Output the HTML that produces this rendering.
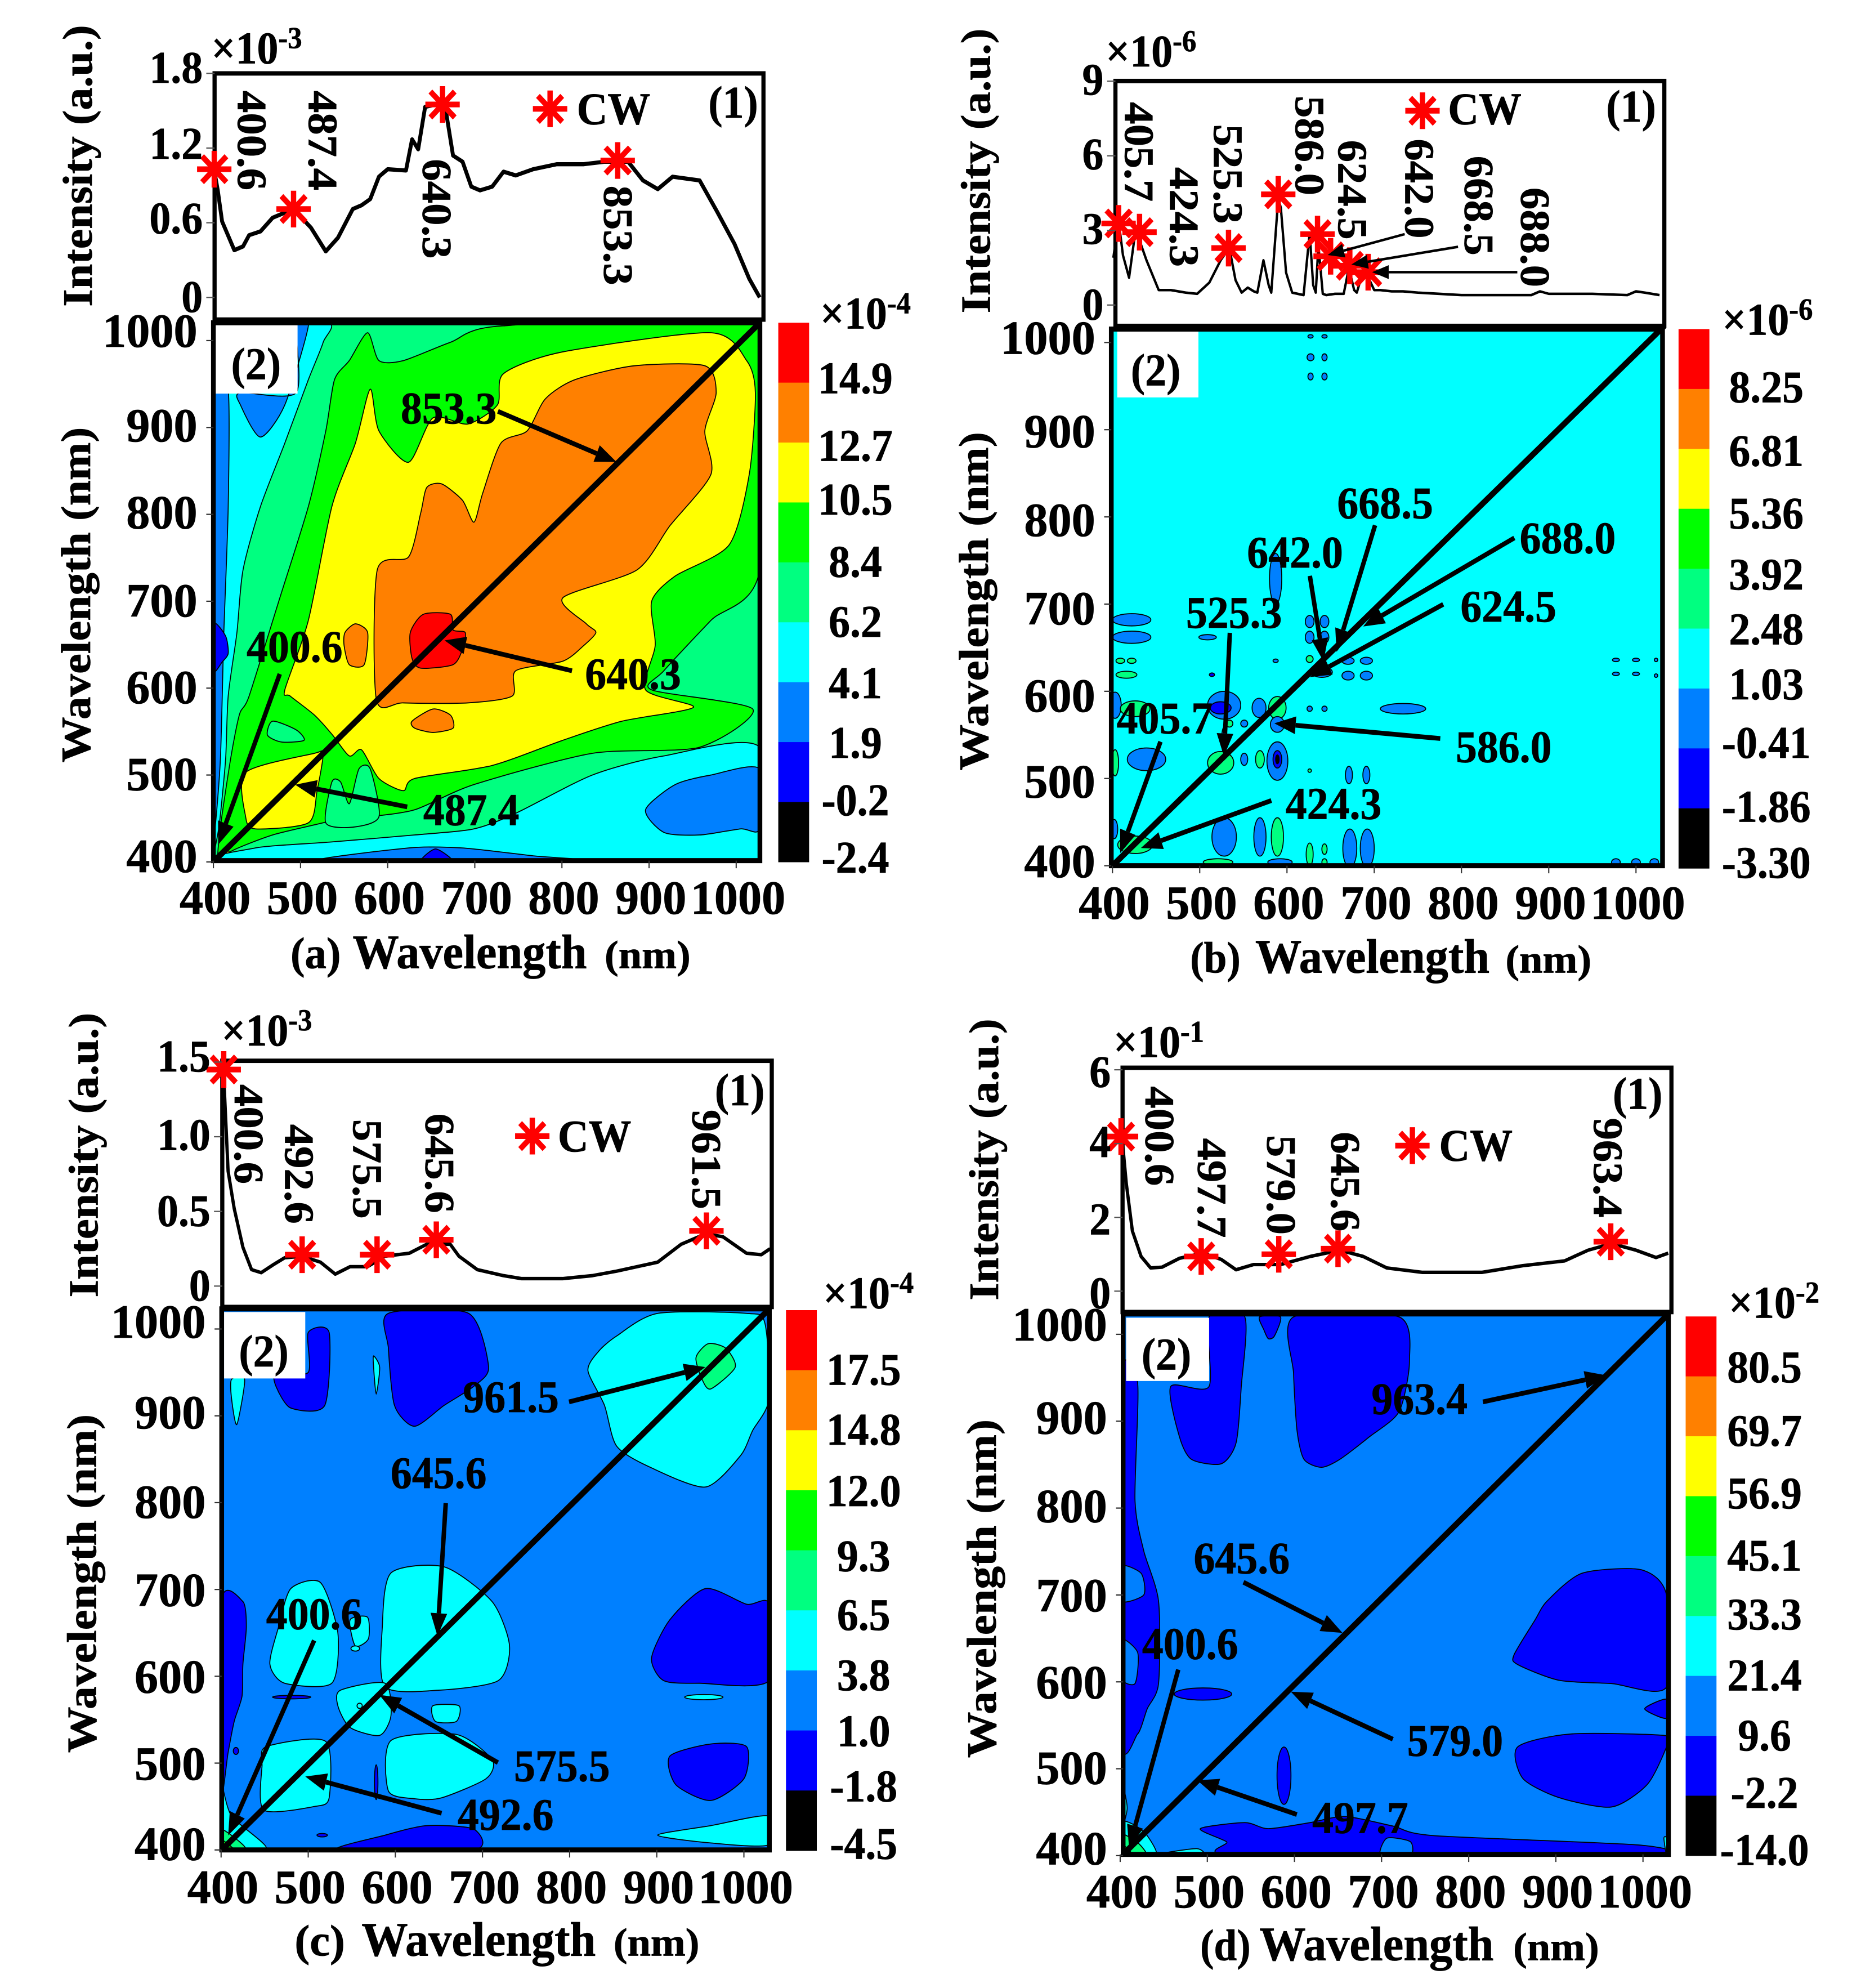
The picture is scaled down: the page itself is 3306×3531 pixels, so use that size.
<!DOCTYPE html>
<html>
<head>
<meta charset="utf-8">
<title>Spectra and correlation contour maps</title>
<style>
html,body{margin:0;padding:0;background:#fff;}
svg{display:block;}
text{font-family:"Liberation Serif",serif;font-weight:bold;fill:#000;stroke:#000;stroke-width:0.7;}
</style>
</head>
<body>
<svg id="figure" xmlns="http://www.w3.org/2000/svg" width="3306" height="3531" viewBox="0 0 3306 3531">
<rect width="3306" height="3531" fill="#ffffff"/>
</svg>
<script>
// ---------- shared axis values ----------
const xTickValues = [400,500,600,700,800,900,1000];
const yTickValues = [400,500,600,700,800,900,1000];
// contour level index: 0 black, 1 blue, 2 azure, 3 cyan, 4 spring, 5 green, 6 yellow, 7 orange, 8 red

// ---------- panel (a) ----------
const aWave = [401,405,410,424,434,441,454,468,492,512,529,543,560,570,580,590,600,621,628,635,643,655,665,675,686,696,706,720,733,747,767,794,825,849,876,893,910,927,958,978,998,1015,1027];
const aIntensity = [1.02,.86,.61,.38,.41,.50,.53,.64,.71,.56,.37,.48,.71,.74,.79,.97,1.03,1.02,1.27,1.19,1.53,1.55,1.58,1.14,1.09,.89,.86,.89,1.01,.98,1.03,1.07,1.07,1.09,1.09,.94,.87,.97,.94,.69,.43,.15,0];
const aPeakWave = [401,492,663,864];
const aPeakIntensity = [1.03,.71,1.55,1.10];
const aPeakLabels = ['400.6','487.4','640.3','853.3'];
const aSpecTicks = [0,0.6,1.2,1.8];
const aSpecTickLabels = ['0','0.6','1.2','1.8'];
const aColorbarLabels = ['14.9','12.7','10.5','8.4','6.2','4.1','1.9','-0.2','-2.4'];
const aContours = [
 [3,[[400,1022],[529,1022],[526,998],[509,955],[482,882],[454,809],[434,736],[427,664],[417,591],[414,518],[407,445],[402,416],[400,400]]],
 [2,[[400,942],[417,942],[417,809],[412,664],[408,518],[401,431],[396,431],[396,942]]],
 [2,[[431,940],[495,940],[495,1017],[509,1017],[482,926],[454,889],[431,926]]],
 [1,[[400,674],[414,660],[417,640],[410,630],[400,620]]],
 [5,[[441,591],[475,700],[509,809],[529,896],[539,955],[556,977],[577,1009],[590,977],[618,977],[672,998],[733,1017],[1027,1017],[1027,736],[971,678],[917,620],[903,598],[1019,576],[958,532],[835,525],[699,489],[631,460],[577,452],[550,452],[526,445],[468,431],[420,412],[414,400],[405,400],[408,440],[420,520],[430,570]]],
 [4,[[529,445],[536,492],[546,492],[556,467],[567,507],[580,507],[590,452],[560,440]]],
 [4,[[468,562],[495,552],[504,540],[478,538],[462,546]]],
 [6,[[482,598],[509,678],[536,809],[563,882],[580,944],[590,896],[624,860],[652,911],[692,904],[726,926],[733,962],[801,987],[971,1009],[1012,977],[1022,940],[1015,846],[992,765],[930,729],[903,700],[907,649],[896,598],[951,578],[869,562],[801,540],[720,511],[631,496],[618,482],[590,496],[570,529],[556,522],[536,547],[516,569],[488,591]]],
 [6,[[437,503],[516,525],[526,525],[519,482],[509,445],[448,438],[437,452]]],
 [6,[[404,400],[415,414],[424,400]]],
 [7,[[587,587],[588,736],[624,751],[638,802],[645,831],[662,835],[686,816],[699,791],[709,824],[730,882],[760,896],[781,933],[815,955],[883,971],[964,971],[977,940],[964,896],[971,846],[924,787],[886,736],[801,704],[828,674],[839,664],[825,649],[801,631],[747,620],[743,591],[692,583],[618,583]]],
 [7,[[551,664],[563,674],[577,664],[573,627],[556,627],[550,649]]],
 [7,[[628,562],[652,576],[672,569],[675,554],[652,549],[631,554]]],
 [8,[[626,664],[641,685],[672,685],[675,667],[689,664],[686,645],[675,627],[638,623],[628,634]]],
 [3,[[427,400],[448,416],[536,423],[631,431],[699,438],[747,456],[835,500],[917,522],[1027,532],[1027,400]]],
 [2,[[896,460],[930,489],[971,500],[1027,507],[1027,438],[1005,438],[958,431],[917,434]]],
 [2,[[520,400],[624,416],[686,416],[767,407],[835,400]]],
 [1,[[638,400],[655,415],[675,400]]]
];
const aBlobs = [];

// ---------- panel (b) ----------
const bWave = [401,407,412,419,426,431,439,453,467,484,497,511,524,534,541,548,555,562,566,573,579,582,590,593,599,606,619,626,630,633,636,641,645,655,665,671,677,680,688,692,700,707,720,733,750,800,850,880,890,900,950,990,1000,1010,1027];
const bIntensity = [1.9,3.4,2,1.1,2.9,2.6,1.8,.6,.6,.5,.45,.9,1.8,2.3,1,.5,.7,.55,.5,1.8,.8,.5,4.3,3.9,1.3,.5,.4,2.9,.8,.5,2.4,.45,.4,.45,.45,1.5,.6,.5,1.45,1.2,.6,.6,.55,.55,.5,.4,.4,.4,.55,.45,.45,.4,.55,.5,.4];
const bPeakWave = [407,431,533,590,635,650,672,693];
const bPeakIntensity = [3.28,2.93,2.29,4.45,2.85,1.96,1.58,1.32];
const bPeakLabels = ['405.7','424.3','525.3','586.0','624.5','642.0','668.5','688.0'];
const bSpecTicks = [0,3,6,9];
const bSpecTickLabels = ['0','3','6','9'];
const bColorbarLabels = ['8.25','6.81','5.36','3.92','2.48','1.03','-0.41','-1.86','-3.30'];
const bContours = [];
const bBlobs = [
 [2,627,1007,3,2],[2,643,1007,3,2],[2,627,983,4,4],[2,643,983,3,4],[2,627,961,3,4],[2,643,961,3,4],
 [2,587,729,7,29],[2,422,682,22,7],[2,422,662,22,7],[2,509,662,10,3],
 [4,409,635,5,3],[4,422,635,5,3],[4,416,619,12,4],[1,514,619,3,2],[2,587,635,3,2],
 [2,626,680,5,7],[2,643,680,5,7],[2,626,662,5,7],[2,643,662,5,7],
 [4,626,637,4,4],[2,670,635,7,4],[2,691,635,7,4],[2,670,618,7,5],[2,691,618,7,5],[2,640,622,12,6],
 [2,626,580,3,3],[2,643,580,3,3],[2,733,580,26,6],[2,403,584,7,15],
 [2,528,584,19,16],[1,524,581,12,7],
 [2,568,581,8,11],[4,589,581,10,13],[2,589,562,8,9],[2,551,563,4,4],[4,534,563,4,4],
 [4,426,580,17,9],[2,528,544,3,15],[2,439,522,22,13],[4,403,518,4,15],[4,524,518,15,13],
 [2,551,522,4,7],[4,569,522,5,10],[2,589,520,12,22],[1,589,522,5,10],[0,589,522,2,5],
 [4,626,509,2,2],[2,671,504,4,10],[2,691,504,4,10],[2,528,433,14,22],[2,569,433,7,22],[4,589,433,7,22],
 [4,626,413,4,13],[4,643,419,3,6],[4,643,404,3,4],[2,672,420,8,22],[2,692,420,8,22],
 [4,521,404,17,4],[2,592,404,14,4],[4,426,424,20,10],[2,402,442,4,11],
 [2,977,404,5,4],[2,1000,404,5,4],[2,1021,404,5,4],
 [2,977,636,4,2],[2,1000,636,4,2],[2,977,620,4,2],[2,1000,620,4,2],[2,1023,636,2,2],[2,1023,618,2,2]
];

// ---------- panel (c) ----------
const cWave = [403,408,415,425,435,446,459,473,493,514,531,548,568,588,616,636,663,673,694,724,745,792,826,854,901,928,956,976,1003,1020,1030];
const cIntensity = [1.41,.77,.52,.26,.11,.09,.14,.19,.20,.16,.08,.13,.13,.20,.22,.28,.28,.20,.11,.07,.05,.05,.07,.10,.16,.28,.35,.33,.22,.21,.25];
const cPeakWave = [403,493,579,647,957];
const cPeakIntensity = [1.45,.21,.21,.31,.37];
const cPeakLabels = ['400.6','492.6','575.5','645.6','961.5'];
const cSpecTicks = [0,0.5,1.0,1.5];
const cSpecTickLabels = ['0','0.5','1.0','1.5'];
const cColorbarLabels = ['17.5','14.8','12.0','9.3','6.5','3.8','1.0','-1.8','-4.5'];
const cContours = [
 [3,[[854,992],[901,1018],[1003,1018],[1024,1007],[1029,920],[1010,883],[996,854],[956,818],[894,840],[854,865],[840,912],[821,952],[833,974]]],
 [4,[[945,967],[959,983],[979,978],[990,956],[962,931],[952,942]]],
 [1,[[592,1018],[684,1018],[707,956],[690,934],[656,912],[622,888],[599,912],[592,978]]],
 [1,[[500,996],[524,996],[519,912],[480,909],[463,934],[463,950],[500,950]]],
 [3,[[412,942],[427,942],[418,890],[412,920]]],
 [3,[[575,969],[582,956],[578,925],[575,956]]],
 [1,[[400,686],[425,686],[429,657],[425,614],[424,577],[415,548],[408,512],[400,468]]],
 [3,[[480,701],[514,708],[534,650],[527,592],[473,592],[456,614],[466,657]]],
 [3,[[548,665],[568,668],[569,643],[554,635]]],
 [3,[[595,719],[656,726],[711,686],[731,635],[718,595],[650,584],[588,588],[585,657]]],
 [3,[[537,584],[588,592],[595,555],[582,532],[548,541],[534,566]]],
 [3,[[643,566],[673,566],[670,548],[646,548]]],
 [3,[[595,526],[670,533],[711,504],[704,482],[653,460],[622,459],[592,468]]],
 [3,[[452,519],[520,525],[524,460],[507,450],[449,446],[447,497]]],
 [1,[[894,621],[915,665],[956,701],[1003,683],[1029,683],[1029,595],[949,592],[908,595]]],
 [1,[[915,508],[962,522],[1003,519],[1000,482],[962,457],[922,475]]],
 [3,[[901,417],[962,428],[1029,439],[1029,406],[962,408]]],
 [1,[[534,400],[588,417],[636,428],[690,424],[690,400]]],
 [3,[[400,475],[412,439],[452,402],[400,400]]],
 [4,[[400,424],[428,402],[400,400]]],
 [5,[[400,412],[415,400],[400,400]]]
];
const cBlobs = [
 [3,554,632,5,3],[1,481,576,22,2],[1,578,478,2,20],[1,417,514,3,4],[3,954,576,22,3],[1,516,417,6,2],[3,559,566,3,3]
];

// ---------- panel (d) ----------
const dWave = [403,407,414,424,435,448,468,495,516,533,553,584,618,652,679,706,747,815,862,910,937,964,992,1015,1029];
const dIntensity = [3.95,2.92,1.63,.94,.63,.65,.89,1.03,.86,.58,.72,.72,.94,1.11,.94,.63,.51,.51,.69,.82,1.11,1.29,1.11,.91,1.03];
const dPeakWave = [401,493,582,650,963];
const dPeakIntensity = [4.19,.94,1.0,1.15,1.34];
const dPeakLabels = ['400.6','497.7','579.0','645.6','963.4'];
const dSpecTicks = [0,2,4,6];
const dSpecTickLabels = ['0','2','4','6'];
const dColorbarLabels = ['80.5','69.7','56.9','45.1','33.3','21.4','9.6','-2.2','-14.0'];
const dContours = [
 [1,[[502,1020],[543,1020],[539,940],[533,875],[516,851],[482,856],[468,882],[458,940],[502,940]]],
 [1,[[560,1020],[584,1020],[577,998],[570,995],[565,1005]]],
 [1,[[599,1020],[720,1020],[732,969],[720,911],[686,882],[652,856],[631,847],[611,856],[603,889],[599,955]]],
 [1,[[400,944],[420,944],[417,809],[427,751],[444,693],[444,598],[431,569],[420,540],[400,540]]],
 [2,[[400,733],[424,725],[427,700],[400,693]]],
 [2,[[400,649],[420,634],[417,598],[400,605]]],
 [1,[[890,693],[930,725],[998,729],[1027,700],[1027,594],[964,598],[903,602],[856,620],[852,631],[876,671]]],
 [1,[[1002,569],[1027,580],[1027,558]]],
 [1,[[856,525],[917,540],[1027,538],[1027,525],[1005,482],[964,456],[903,467],[862,489]]],
 [1,[[492,431],[543,438],[570,431],[618,438],[658,445],[713,434],[760,423],[998,412],[1002,400],[539,400],[522,416]]],
 [2,[[706,420],[733,416],[733,400],[699,400]]],
 [3,[[400,490],[408,455],[400,430]]],
 [3,[[400,438],[415,436],[431,423],[441,400],[400,400]]],
 [4,[[400,425],[420,415],[430,400],[400,400]]],
 [5,[[400,415],[415,400],[400,400]]],
 [6,[[402,408],[408,400],[402,400]]],
 [3,[[447,402],[488,408],[495,400]]],
 [3,[[1024,420],[1027,420],[1027,400]]]
];
const dBlobs = [
 [1,495,586,33,7],[1,588,492,8,33]
];

// ---------- layout only (page pixels within a panel) ----------
const panelAConfig = {
 name:'a', ox:0, oy:0, x0:360, xk:1.47, y0:1362, yk:1.373,
 specBox:[362,116,1288,505], s0:470, sk:196.7, plot:[360,510,1282,1360], base:4, lw:6.5,
 cbar:[1313,510,1365,1362], cbarTextX:1443, multX:1460, multY:497, multText:'×10', multExp:'-4',
 specMultX:433, specMultY:78, specMultExp:'-3',
 cw:[928,172,1035,172], one:[1237,162], two:[362,512,502,622,432,575],
 intensityTitle:[133,262,445], waveTitle:[130,940,530],
 bottom:['(a)',490,595,1020,1530],
 rotated:[[425,222],[545,222],[737,330],[1043,372]],
 diag:[362,1360,1282,510],
 arrows:[['853.3',757,645,840,650,1040,730],['640.3',1068,1065,965,1060,750,1012],['400.6',497,1022,472,1065,368,1335],['487.4',795,1280,687,1275,498,1240]],
 topArrows:[],
 yLabelDy:[0,8,8,8,6,6,-6], specLabelDy:[0,-6,-6,-8], cbarDy:[-2,10,0,4,4,6,6,2,-2]
};
const panelBConfig = {
 name:'b', ox:1653, oy:0, x0:307, xk:1.472, y0:1368, yk:1.378,
 specBox:[312,128,1238,515], s0:482, sk:39.3, plot:[305,520,1235,1368], base:3, lw:4,
 cbar:[1262,520,1314,1372], cbarTextX:1410, multX:1412, multY:507, multText:'×10', multExp:'-6',
 specMultX:372, specMultY:83, specMultExp:'-6',
 cw:[830,175,935,172], one:[1182,168], two:[315,523,452,628,380,585],
 intensityTitle:[78,270,450], waveTitle:[75,950,535],
 bottom:['(b)',438,548,970,1537],
 rotated:[[352,240],[428,343],[502,275],[640,230],[712,300],[825,298],[925,325],[1020,375]],
 diag:[307,1368,1238,515],
 arrows:[['668.5',767,795,750,830,685,1030],['642.0',615,873,640,910,663,1045],['688.0',1075,850,985,850,730,990],['624.5',975,958,865,955,640,1070],['525.3',512,968,505,1000,495,1195],['586.0',967,1180,860,1167,580,1143],['405.7',395,1135,388,1172,320,1348],['424.3',680,1270,575,1265,355,1340]],
 topArrows:[[800,370,670,403],[890,390,710,418],[990,430,745,430]],
 yLabelDy:[2,14,16,16,14,12,2], specLabelDy:[0,-2,-2,-2], cbarDy:[2,8,12,14,6,-2,-4,2,-4]
};
const panelCConfig = {
 name:'c', ox:0, oy:1765, x0:373, xk:1.47, y0:1353, yk:1.372,
 specBox:[375,106,1302,495], s0:462, sk:236, plot:[374,498,1298,1353], base:2, lw:5.5,
 cbar:[1326,500,1378,1354], cbarTextX:1457, multX:1465, multY:475, multText:'×10', multExp:'-4',
 specMultX:450, specMultY:60, specMultExp:'-3',
 cw:[898,225,1003,225], one:[1248,152], two:[378,503,515,608,445,565],
 intensityTitle:[143,255,450], waveTitle:[140,932,535],
 bottom:['(c)',497,610,1035,1520],
 rotated:[[420,222],[505,285],[620,277],[742,268],[1192,262]],
 diag:[374,1353,1298,498],
 arrows:[['961.5',862,637,960,645,1190,590],['645.6',740,757,752,805,738,1015],['400.6',530,980,530,1022,385,1330],['575.5',948,1220,840,1215,640,1108],['492.6',853,1297,745,1295,515,1237]],
 topArrows:[],
 yLabelDy:[0,10,10,10,8,4,-2], specLabelDy:[0,0,-2,-8], cbarDy:[4,4,6,14,12,12,6,-2,-6]
};
const panelDConfig = {
 name:'d', ox:1653, oy:1765, x0:320, xk:1.47, y0:1362, yk:1.373,
 specBox:[324,117,1250,503], s0:470, sk:58.3, plot:[325,506,1245,1360], base:2, lw:5.5,
 cbar:[1274,510,1326,1362], cbarTextX:1407, multX:1423, multY:490, multText:'×10', multExp:'-2',
 specMultX:385, specMultY:78, specMultExp:'-1',
 cw:[813,240,920,240], one:[1193,158], two:[330,512,470,612,398,570],
 intensityTitle:[92,262,445], waveTitle:[88,940,535],
 bottom:['(d)',455,555,983,1527],
 rotated:[[387,225],[475,307],[592,302],[700,297],[1143,275]],
 diag:[325,1360,1245,506],
 arrows:[['963.4',825,640,932,645,1140,603],['645.6',525,892,528,930,695,1010],['400.6',438,1027,418,1068,335,1350],['579.0',885,1180,780,1178,608,1103],['497.7',725,1302,618,1297,450,1243]],
 topArrows:[],
 yLabelDy:[-2,8,10,10,6,4,-6], specLabelDy:[4,4,-2,4], cbarDy:[-10,-4,0,4,2,4,4,0,-4]
};

const levelColors = ['#000000','#0000ff','#0080ff','#00ffff','#00ff80','#00ff00','#ffff00','#ff8000','#ff0000'];
const NS = 'http://www.w3.org/2000/svg';
const root = document.getElementById('figure');

function add(tag, attrs, parent, txt){
  const el = document.createElementNS(NS, tag);
  for(const k in attrs) el.setAttribute(k, attrs[k]);
  if(txt !== undefined) el.textContent = txt;
  parent.appendChild(el);
  return el;
}
function smoothClosed(p){
  const n = p.length;
  let d = 'M'+p[0][0].toFixed(1)+' '+p[0][1].toFixed(1);
  for(let i=0;i<n;i++){
    const a=p[(i-1+n)%n], b=p[i], c=p[(i+1)%n], e=p[(i+2)%n];
    const c1x=b[0]+(c[0]-a[0])/8, c1y=b[1]+(c[1]-a[1])/8;
    const c2x=c[0]-(e[0]-b[0])/8, c2y=c[1]-(e[1]-b[1])/8;
    d+='C'+c1x.toFixed(1)+' '+c1y.toFixed(1)+' '+c2x.toFixed(1)+' '+c2y.toFixed(1)+' '+c[0].toFixed(1)+' '+c[1].toFixed(1);
  }
  return d+'Z';
}
function drawArrow(g, x1, y1, x2, y2, width){
  const dx=x2-x1, dy=y2-y1, len=Math.hypot(dx,dy), ux=dx/len, uy=dy/len;
  const hl=width>5?36:28, hw=width>5?14:11;
  const bx=x2-ux*hl, by=y2-uy*hl;
  const line = add('line',{x1:x1,y1:y1,x2:bx,y2:by,stroke:'#000','stroke-width':width},g);
  
  
  const head = add('polygon',{points:x2+','+y2+' '+(bx-uy*hw)+','+(by+ux*hw)+' '+(bx+uy*hw)+','+(by-ux*hw),fill:'#000'},g);
  
  
}
function drawStar(g, cx, cy){
  const star = add('g',{},g);
  
  
  for(let i=0;i<4;i++){
    const ang=i*Math.PI/4, r=29;
    add('line',{x1:cx-Math.cos(ang)*r,y1:cy-Math.sin(ang)*r,x2:cx+Math.cos(ang)*r,y2:cy+Math.sin(ang)*r,stroke:'#ff0000','stroke-width':9},star);
  }
}

function drawPanel(cfg, wave, intensity, peakWave, peakIntensity, peakLabels, specTicks, specTickLabels, colorbarLabels, contours, blobs){
  const X = nm => cfg.x0 + (nm-400)*cfg.xk;
  const Y = nm => cfg.y0 - (nm-400)*cfg.yk;
  const S = v => cfg.s0 - v*cfg.sk;

  const g = add('g',{transform:'translate('+cfg.ox+' '+cfg.oy+') scale(1.053 1.124)'},root);
  
  

  // contour map
  const [pl,pt,pr,pb] = cfg.plot;
  const clip = add('clipPath',{id:'clip-'+cfg.name},g);
  add('rect',{x:pl,y:pt,width:pr-pl,height:pb-pt},clip);
  const map = add('g',{'clip-path':'url(#clip-'+cfg.name+')'},g);
  
  
  const base = add('rect',{x:pl,y:pt,width:pr-pl,height:pb-pt,fill:levelColors[cfg.base]},map);
  
  
  contours.forEach(c=>{
    const pts = c[1].map(q=>[X(q[0]),Y(q[1])]);
    const path = add('path',{d:smoothClosed(pts),fill:levelColors[c[0]],stroke:'#000','stroke-width':1.6},map);
    
    
  });
  blobs.forEach(b=>{
    const el = add('ellipse',{cx:X(b[1]),cy:Y(b[2]),rx:b[3]*cfg.xk,ry:b[4]*cfg.yk,fill:levelColors[b[0]],stroke:'#000','stroke-width':1.6},map);
    
    
  });

  // white inset (2) box
  const tw = cfg.two;
  const twoBox = add('rect',{x:tw[0],y:tw[1],width:tw[2]-tw[0],height:tw[3]-tw[1],fill:'#fff'},g);
  
  
  const twoLabel = add('text',{x:tw[4],y:tw[5]+24,'text-anchor':'middle','font-size':72},g,'(2)');
  
  

  // frames
  const [sl,st,sr,sb] = cfg.specBox;
  const specFrame = add('rect',{x:sl,y:st,width:sr-sl,height:sb-st,fill:'none',stroke:'#000','stroke-width':7},g);
  
  
  const plotFrame = add('rect',{x:pl,y:pt,width:pr-pl,height:pb-pt,fill:'none',stroke:'#000','stroke-width':8},g);
  
  

  // spectrum
  const specLine = add('polyline',{points:wave.map((w,i)=>X(w).toFixed(1)+','+S(intensity[i]).toFixed(1)).join(' '),fill:'none',stroke:'#000','stroke-width':cfg.lw,'stroke-linejoin':'round'},g);
  
  
  peakWave.forEach((w,i)=>drawStar(g,X(w),S(peakIntensity[i])));
  drawStar(g,cfg.cw[0],cfg.cw[1]);
  const cwText = add('text',{x:cfg.cw[2],y:cfg.cw[3]+24,'text-anchor':'middle','font-size':72},g,'CW');
  
  
  const oneText = add('text',{x:cfg.one[0],y:cfg.one[1]+24,'text-anchor':'middle','font-size':72},g,'(1)');
  
  

  // rotated peak labels
  peakLabels.forEach((lab,i)=>{
    const pos = cfg.rotated[i];
    const t = add('text',{transform:'translate('+pos[0]+' '+pos[1]+') rotate(90)',x:0,y:24,'text-anchor':'middle','font-size':70},g,lab);
    
    
  });
  cfg.topArrows.forEach(a=>drawArrow(g,a[0],a[1],a[2],a[3],4));

  // spectrum y ticks
  specTicks.forEach((v,i)=>{
    const tick = add('line',{x1:sl-14,y1:S(v),x2:sl,y2:S(v),stroke:'#555','stroke-width':2},g);
    
    
    const t = add('text',{x:sl-20,y:S(v)+23+cfg.specLabelDy[i],'text-anchor':'end','font-size':72},g,specTickLabels[i]);
    
    
  });

  // map axes
  xTickValues.forEach(v=>{
    const tick = add('line',{x1:X(v),y1:pb,x2:X(v),y2:pb+12,stroke:'#333','stroke-width':2},g);
    
    
    const s = String(v);
    const t = add('text',{x:X(v)+3,y:pb+84,'text-anchor':'middle','font-size':75,textLength:s.length*40,lengthAdjust:'spacingAndGlyphs'},g,s);
    
    
  });
  yTickValues.forEach((v,i)=>{
    const tick = add('line',{x1:pl-12,y1:Y(v),x2:pl,y2:Y(v),stroke:'#333','stroke-width':2},g);
    
    
    const s = String(v);
    const t = add('text',{x:pl-27,y:Y(v)+16+cfg.yLabelDy[i],'text-anchor':'end','font-size':75,textLength:s.length*40,lengthAdjust:'spacingAndGlyphs'},g,s);
    
    
  });

  // colour bar
  const [cl,ct,cr,cb] = cfg.cbar;
  const seg = (cb-ct)/levelColors.length;
  levelColors.slice().reverse().forEach((col,i)=>{
    const r = add('rect',{x:cl,y:ct+i*seg,width:cr-cl,height:seg+0.5,fill:col},g);
    
    
  });
  colorbarLabels.forEach((lab,i)=>{
    const t = add('text',{x:cfg.cbarTextX,y:ct+(i+1)*seg-5+24+cfg.cbarDy[i],'text-anchor':'middle','font-size':72},g,lab);
    
    
  });
  const mult = add('text',{x:cfg.multX,y:cfg.multY+22,'text-anchor':'middle','font-size':72},g);
  
  
  add('tspan',{},mult,cfg.multText);
  add('tspan',{dy:-24,'font-size':48},mult,cfg.multExp);
  const specMult = add('text',{x:cfg.specMultX,y:cfg.specMultY+22,'text-anchor':'middle','font-size':72},g);
  
  
  add('tspan',{},specMult,'×10');
  add('tspan',{dy:-24,'font-size':48},specMult,cfg.specMultExp);

  // axis titles
  const it = cfg.intensityTitle;
  const iTitle = add('text',{transform:'translate('+(it[0]+22)+' '+it[1]+') rotate(-90)','text-anchor':'middle','font-size':70,textLength:it[2],lengthAdjust:'spacingAndGlyphs'},g,'Intensity (a.u.)');
  
  
  const wt = cfg.waveTitle;
  const wTitle = add('text',{transform:'translate('+(wt[0]+22)+' '+wt[1]+') rotate(-90)','text-anchor':'middle','font-size':70,textLength:wt[2],lengthAdjust:'spacingAndGlyphs'},g,'Wavelength (nm)');
  
  
  const bt = cfg.bottom;
  const tagText = add('text',{x:bt[1],y:bt[4],'font-size':70,textLength:85,lengthAdjust:'spacingAndGlyphs'},g,bt[0]);
  
  
  const xTitle = add('text',{x:bt[2],y:bt[4],'font-size':76,textLength:395,lengthAdjust:'spacingAndGlyphs'},g,'Wavelength');
  
  
  const xUnit = add('text',{x:bt[3],y:bt[4],'font-size':62,textLength:145,lengthAdjust:'spacingAndGlyphs'},g,'(nm)');
  
  

  // diagonal and call-outs
  const d = cfg.diag;
  const diag = add('line',{x1:d[0],y1:d[1],x2:d[2],y2:d[3],stroke:'#000','stroke-width':9.5},g);
  
  
  cfg.arrows.forEach(a=>{
    drawArrow(g,a[3],a[4],a[5],a[6],7.5);
    const t = add('text',{x:a[1],y:a[2]+24,'text-anchor':'middle','font-size':72},g,a[0]);
    
    
  });
}

drawPanel(panelAConfig,aWave,aIntensity,aPeakWave,aPeakIntensity,aPeakLabels,aSpecTicks,aSpecTickLabels,aColorbarLabels,aContours,aBlobs);
drawPanel(panelBConfig,bWave,bIntensity,bPeakWave,bPeakIntensity,bPeakLabels,bSpecTicks,bSpecTickLabels,bColorbarLabels,bContours,bBlobs);
drawPanel(panelCConfig,cWave,cIntensity,cPeakWave,cPeakIntensity,cPeakLabels,cSpecTicks,cSpecTickLabels,cColorbarLabels,cContours,cBlobs);
drawPanel(panelDConfig,dWave,dIntensity,dPeakWave,dPeakIntensity,dPeakLabels,dSpecTicks,dSpecTickLabels,dColorbarLabels,dContours,dBlobs);
</script>
</body>
</html>
